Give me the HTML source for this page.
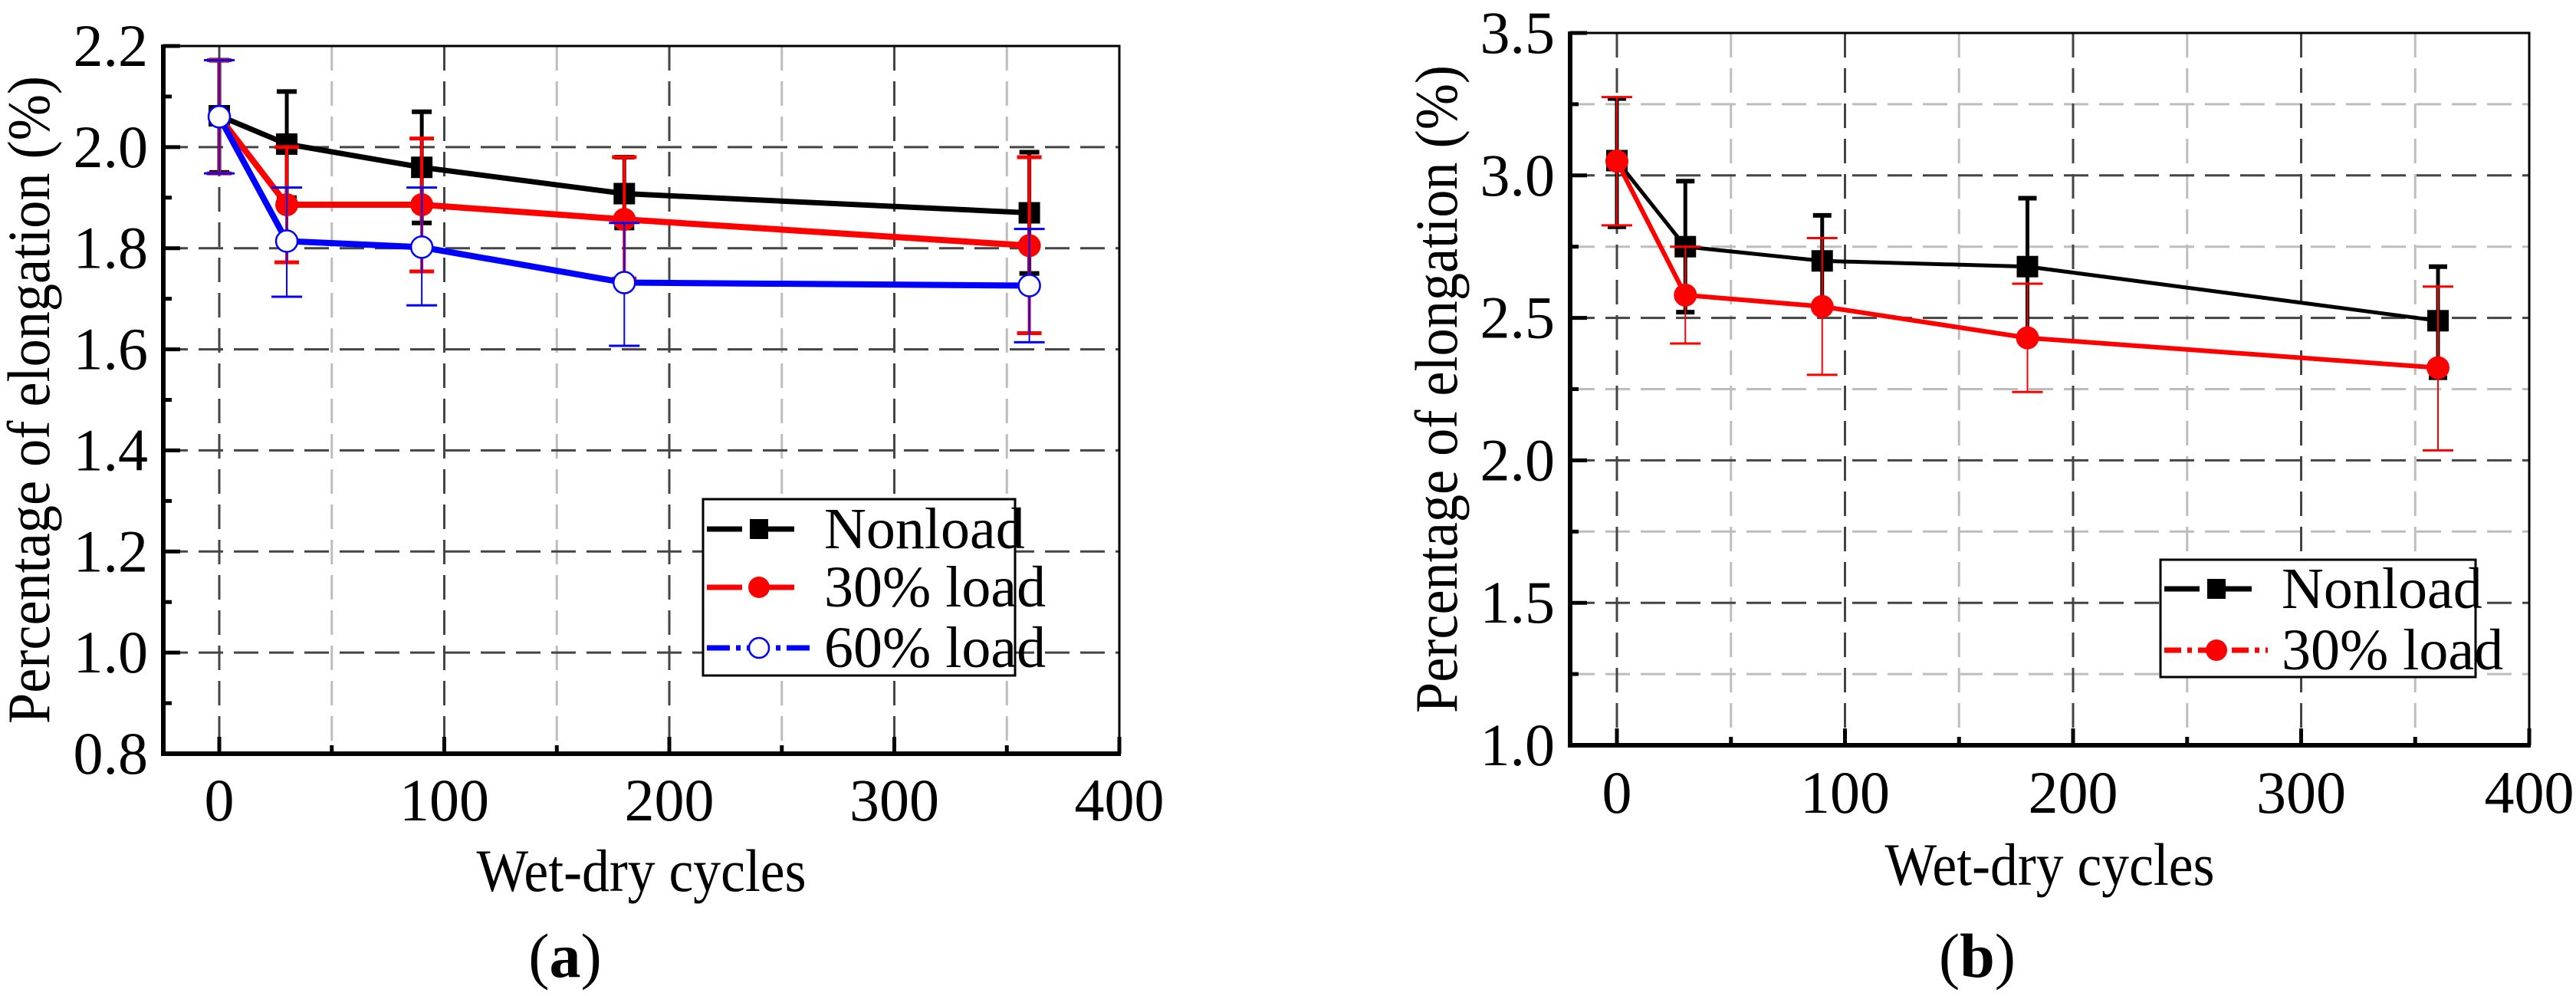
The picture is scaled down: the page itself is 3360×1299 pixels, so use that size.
<!DOCTYPE html>
<html><head><meta charset="utf-8"><style>
html,body{margin:0;padding:0;background:#fff;}
svg{display:block;}
svg text{font-family:"Liberation Serif","DejaVu Serif","Times New Roman",serif;fill:#000;}
</style></head><body>
<svg id="fig" width="3360" height="1299" viewBox="0 0 3360 1299" xmlns="http://www.w3.org/2000/svg"></svg>
<script>
// ---- Chart (a) data ----
const cyclesA = [0, 30, 90, 180, 360];
const nonloadA = [2.062, 2.006, 1.960, 1.908, 1.870];
const nonloadAHi = [2.172, 2.110, 2.070, 1.980, 1.990];
const nonloadALo = [1.950, 1.900, 1.850, 1.840, 1.750];
const load30A = [2.060, 1.886, 1.886, 1.857, 1.805];
const load30AHi = [2.172, 2.000, 2.017, 1.980, 1.980];
const load30ALo = [1.948, 1.772, 1.754, 1.740, 1.632];
const load60A = [2.060, 1.814, 1.802, 1.732, 1.726];
const load60AHi = [2.172, 1.920, 1.920, 1.850, 1.838];
const load60ALo = [1.948, 1.704, 1.687, 1.607, 1.614];
const yTicksA = ["0.8","1.0","1.2","1.4","1.6","1.8","2.0","2.2"];
const xTicks = ["0","100","200","300","400"];
// ---- Chart (b) data ----
const cyclesB = [0, 30, 90, 180, 360];
const nonloadB = [3.052, 2.750, 2.700, 2.680, 2.490];
const nonloadBHi = [3.270, 2.980, 2.860, 2.920, 2.680];
const nonloadBLo = [2.820, 2.520, 2.550, 2.430, 2.290];
const load30B = [3.050, 2.580, 2.540, 2.430, 2.325];
const load30BHi = [3.275, 2.750, 2.780, 2.620, 2.610];
const load30BLo = [2.825, 2.410, 2.300, 2.240, 2.035];
const yTicksB = ["1.0","1.5","2.0","2.5","3.0","3.5"];

const NS = "http://www.w3.org/2000/svg";
const FONT = '"Liberation Serif", "DejaVu Serif", serif';
const fig = document.getElementById('fig');
function mk(tag, attrs, parent){
  const e = document.createElementNS(NS, tag);
  for (const k in attrs) e.setAttribute(k, attrs[k]);
  if (tag === 'text') { e.setAttribute('font-family', FONT); e.style.fontFamily = FONT; }
  (parent||fig).appendChild(e);
  return e;
}

function drawChart(cfg){
  const g = mk('g', {});
  
  
  const X = v => cfg.x0 + v * cfg.xs;
  const Y = v => cfg.bottom - (v - cfg.ymin) / (cfg.ymax - cfg.ymin) * (cfg.bottom - cfg.top);
  for (let v = 50; v < 400; v += 100) {
    const l = mk('line', {x1:X(v), x2:X(v), y1:cfg.top, y2:cfg.bottom, stroke:'#bdbdbd', 'stroke-width':3, 'stroke-dasharray':'32 14'}, g);
    
    
  }
  if (cfg.yMinorGrid) {
    for (let i = 0; i < cfg.yTicks.length - 1; i++) {
      const v = (parseFloat(cfg.yTicks[i]) + parseFloat(cfg.yTicks[i+1])) / 2;
      const l = mk('line', {x1:cfg.left, x2:cfg.right, y1:Y(v), y2:Y(v), stroke:'#bdbdbd', 'stroke-width':3, 'stroke-dasharray':'32 14'}, g);
      
      
    }
  }
  cfg.xTicks.forEach(t => {
    const v = parseFloat(t);
    if (X(v) < cfg.right - 5) {
      const l = mk('line', {x1:X(v), x2:X(v), y1:cfg.top, y2:cfg.bottom, stroke:'#444', 'stroke-width':3, 'stroke-dasharray':'32 14'}, g);
      
      
    }
  });
  cfg.yTicks.forEach(t => {
    const v = parseFloat(t);
    if (Y(v) > cfg.top + 5 && Y(v) < cfg.bottom - 5) {
      const l = mk('line', {x1:cfg.left, x2:cfg.right, y1:Y(v), y2:Y(v), stroke:'#444', 'stroke-width':3, 'stroke-dasharray':'32 14'}, g);
      
      
    }
  });
  const fr = mk('rect', {x:cfg.left, y:cfg.top, width:cfg.right-cfg.left, height:cfg.bottom-cfg.top, fill:'none', stroke:'#000', 'stroke-width':3}, g);
  
  
  mk('line', {x1:cfg.left, x2:cfg.left, y1:cfg.top-2, y2:cfg.bottom+3, stroke:'#000', 'stroke-width':6}, g);
  mk('line', {x1:cfg.left-3, x2:cfg.right+2, y1:cfg.bottom, y2:cfg.bottom, stroke:'#000', 'stroke-width':6}, g);
  cfg.yTicks.forEach((t, i) => {
    const v = parseFloat(t);
    mk('line', {x1:cfg.left, x2:cfg.left+22, y1:Y(v), y2:Y(v), stroke:'#000', 'stroke-width':5}, g);
    if (i < cfg.yTicks.length - 1) {
      const m = (v + parseFloat(cfg.yTicks[i+1])) / 2;
      mk('line', {x1:cfg.left, x2:cfg.left+11, y1:Y(m), y2:Y(m), stroke:'#000', 'stroke-width':5}, g);
    }
    const tx = mk('text', {x:cfg.left-20, y:Y(v)+26, 'font-size':78, 'text-anchor':'end'}, g);
    tx.textContent = t;
    
    
  });
  cfg.xTicks.forEach(t => {
    const v = parseFloat(t);
    mk('line', {x1:X(v), x2:X(v), y1:cfg.bottom, y2:cfg.bottom-22, stroke:'#000', 'stroke-width':5}, g);
    if (v < 400) mk('line', {x1:X(v+50), x2:X(v+50), y1:cfg.bottom, y2:cfg.bottom-11, stroke:'#000', 'stroke-width':5}, g);
    const tx = mk('text', {x:X(v), y:cfg.xLabelY, 'font-size':78, 'text-anchor':'middle'}, g);
    tx.textContent = t;
    
    
  });
  const xt = mk('text', {x:(cfg.left+cfg.right)/2, y:cfg.xTitleY, 'font-size':78, 'text-anchor':'middle', textLength:430, lengthAdjust:'spacingAndGlyphs'}, g);
  xt.textContent = 'Wet-dry cycles';
  
  
  const ycY = (cfg.top + cfg.bottom) / 2 + cfg.yTitleShift;
  const yt = mk('text', {x:0, y:0, 'font-size':78, 'text-anchor':'middle', textLength:cfg.yTitleLen, lengthAdjust:'spacingAndGlyphs', transform:`translate(${cfg.yTitleX},${ycY}) rotate(-90)`}, g);
  yt.textContent = 'Percentage of elongation (%)';
  
  
  const pl = mk('text', {x:cfg.panelX, y:cfg.panelY, 'font-size':82, 'text-anchor':'middle'}, g);
  pl.innerHTML = '(<tspan font-weight="bold">' + cfg.panel + '</tspan>)';
  
  

  cfg.series.forEach(s => {
    const sg = mk('g', {}, g);
    
    
    s.xs.forEach((c, i) => {
      const eb = mk('g', {}, sg);
      
      
      mk('line', {x1:X(c), x2:X(c), y1:Y(s.hi[i]), y2:Y(s.lo[i]), stroke:s.color, 'stroke-width':s.ebw}, eb);
      mk('line', {x1:X(c)-s.cap, x2:X(c)+s.cap, y1:Y(s.hi[i]), y2:Y(s.hi[i]), stroke:s.color, 'stroke-width':s.ebw+1}, eb);
      mk('line', {x1:X(c)-s.cap, x2:X(c)+s.cap, y1:Y(s.lo[i]), y2:Y(s.lo[i]), stroke:s.color, 'stroke-width':s.ebw+1}, eb);
    });
    const pts = s.xs.map((c, i) => X(c) + ',' + Y(s.ys[i])).join(' ');
    const pline = mk('polyline', {points:pts, fill:'none', stroke:s.color, 'stroke-width':s.lw}, sg);
    
    
    s.xs.forEach((c, i) => {
      let m;
      if (s.marker === 'square') m = mk('rect', {x:X(c)-14, y:Y(s.ys[i])-14, width:28, height:28, fill:s.color}, sg);
      else if (s.marker === 'circle') m = mk('circle', {cx:X(c), cy:Y(s.ys[i]), r:15, fill:s.color}, sg);
      else m = mk('circle', {cx:X(c), cy:Y(s.ys[i]), r:14, fill:'#fff', stroke:s.color, 'stroke-width':2.5}, sg);
      
      
    });
  });

  const lg = mk('g', {}, g);
  
  
  mk('rect', {x:cfg.leg.x, y:cfg.leg.y, width:cfg.leg.w, height:cfg.leg.h, fill:'#fff', stroke:'#000', 'stroke-width':3}, lg);
  cfg.series.forEach((s, i) => {
    const ey = cfg.leg.rows[i];
    const en = mk('g', {}, lg);
    
    
    const lx = cfg.leg.x + 5;
    mk('line', {x1:lx, x2:lx+135, y1:ey, y2:ey, stroke:s.color, 'stroke-width':7, 'stroke-dasharray':s.legDash}, en);
    const mx = lx + 68;
    if (s.marker === 'square') mk('rect', {x:mx-12, y:ey-13, width:24, height:26, fill:s.color}, en);
    else if (s.marker === 'circle') mk('circle', {cx:mx, cy:ey, r:14, fill:s.color}, en);
    else mk('circle', {cx:mx, cy:ey, r:13, fill:'#fff', stroke:s.color, 'stroke-width':2.5}, en);
    const t = mk('text', {x:cfg.leg.x + 158, y:ey+25, 'font-size':76}, en);
    t.textContent = s.label;
  });
}

drawChart({
  name:'chart-a', panel:'a',
  left:213, right:1460, top:60, bottom:983, x0:286, xs:2.935,
  ymin:0.8, ymax:2.2, yTicks:yTicksA, xTicks:xTicks, yMinorGrid:false,
  xLabelY:1070, xTitleY:1162, yTitleX:64, yTitleShift:0, yTitleLen:845,
  panelX:737, panelY:1274,
  leg:{x:917, y:651, w:407, h:230, rows:[690, 766, 845]},
  series:[
    {name:'series-nonload', label:'Nonload', color:'#000', xs:cyclesA, ys:nonloadA, hi:nonloadAHi, lo:nonloadALo, lw:7, ebw:5, cap:13, marker:'square', legDash:'46 22'},
    {name:'series-30-load', label:'30% load', color:'#ff0000', xs:cyclesA, ys:load30A, hi:load30AHi, lo:load30ALo, lw:8, ebw:4, cap:16, marker:'circle', legDash:'46 22'},
    {name:'series-60-load', label:'60% load', color:'#0000ff', xs:cyclesA, ys:load60A, hi:load60AHi, lo:load60ALo, lw:8, ebw:2, cap:20, marker:'open', legDash:'30 8 6 8'}
  ]
});

drawChart({
  name:'chart-b', panel:'b',
  left:2048, right:3299, top:43, bottom:972, x0:2109, xs:2.975,
  ymin:1.0, ymax:3.5, yTicks:yTicksB, xTicks:xTicks, yMinorGrid:true,
  xLabelY:1060, xTitleY:1154, yTitleX:1900, yTitleShift:0, yTitleLen:845,
  panelX:2579, panelY:1274,
  leg:{x:2818, y:730, w:411, h:153, rows:[768, 848]},
  series:[
    {name:'series-nonload', label:'Nonload', color:'#000', xs:cyclesB, ys:nonloadB, hi:nonloadBHi, lo:nonloadBLo, lw:5, ebw:5, cap:12, marker:'square', legDash:'46 22'},
    {name:'series-30-load', label:'30% load', color:'#ff0000', xs:cyclesB, ys:load30B, hi:load30BHi, lo:load30BLo, lw:6, ebw:2, cap:20, marker:'circle', legDash:'22 8 6 8'}
  ]
});
</script>
</body></html>
